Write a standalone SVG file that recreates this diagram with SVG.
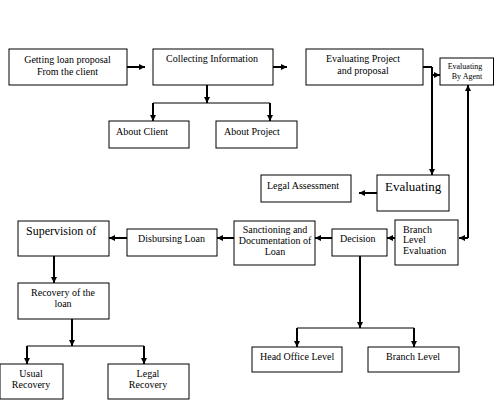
<svg xmlns="http://www.w3.org/2000/svg" width="494" height="415" viewBox="0 0 494 415">
<defs>
<marker id="ah" markerUnits="userSpaceOnUse" markerWidth="8" markerHeight="8" viewBox="0 0 8 8" refX="7" refY="4" orient="auto"><path d="M1,1 L7,4 L1,7 Z" fill="#000"/></marker>
</defs>
<style>
rect{fill:#fff;stroke:#000;stroke-width:1}
text{font-family:"Liberation Serif","Times New Roman",serif;font-size:10px;fill:#000}
.c{text-anchor:middle}
.big{font-size:13px}
.big2{font-size:12px}
.sm{font-size:8px}
.a{stroke:#000;stroke-width:2;fill:none;marker-end:url(#ah)}
.l{stroke:#000;stroke-width:2;fill:none}
.t{stroke:#000;stroke-width:1;fill:none}
</style>
<rect x="0" y="0" width="494" height="415" style="stroke:none"/>
<g id="connectors">
<path class="a" d="M127,67 H145"/>
<path class="a" d="M273,67 H287"/>
<path class="a" d="M207,85 V103"/>
<path class="t" d="M153,103 H270"/>
<path class="a" d="M153,103 V121"/>
<path class="a" d="M270,103 V121"/>
<path class="l" d="M423,67 H432"/>
<path class="a" d="M432,67 V175"/>
<path class="a" d="M432,75 H440"/>
<path class="a" d="M468,238 V85"/>
<path class="a" d="M468,238 H459"/>
<path class="a" d="M377,193 H359"/>
<path class="a" d="M395,238 H387"/>
<path class="a" d="M332,238 H315"/>
<path class="a" d="M234,238 H217"/>
<path class="a" d="M127,238 H109"/>
<path class="a" d="M54,256 V283"/>
<path class="a" d="M360,256 V328"/>
<path class="t" d="M297,328 H414"/>
<path class="a" d="M297,328 V347"/>
<path class="a" d="M414,328 V347"/>
<path class="a" d="M72,319 V346"/>
<path class="t" d="M27,346 H144"/>
<path class="a" d="M27,346 V364"/>
<path class="a" d="M144,346 V364"/>
</g>
<g id="getting"><rect x="9" y="49" width="118" height="36"/><text class="c" x="67.5" y="62.5">Getting loan proposal</text><text class="c" x="67.5" y="74.5">From the client</text></g>
<g id="collecting"><rect x="153" y="49" width="120" height="36"/><text x="166" y="62">Collecting Information</text></g>
<g id="evalproject"><rect x="306" y="49" width="117" height="36"/><text class="c" x="363" y="61.5">Evaluating Project</text><text class="c" x="363" y="73.5">and proposal</text></g>
<g id="agent"><rect x="440" y="58" width="53.5" height="27"/><text class="c sm" x="465" y="68.5">Evaluating</text><text class="c sm" x="467" y="78.5">By Agent</text></g>
<g id="aboutclient"><rect x="109" y="121" width="80" height="27"/><text x="116" y="134.5">About Client</text></g>
<g id="aboutproject"><rect x="216" y="121" width="81" height="27"/><text x="224" y="134.5">About Project</text></g>
<g id="legalassess"><rect x="261" y="175" width="90" height="27"/><text x="267" y="188.5">Legal Assessment</text></g>
<g id="evaluating"><rect x="377" y="175" width="72" height="36"/><text class="big" x="385" y="190.5">Evaluating</text></g>
<g id="branchlevelevaluation"><rect x="395" y="220" width="63" height="45"/><text x="403" y="232.5">Branch</text><text x="403" y="242.5">Level</text><text x="403" y="253.5">Evaluation</text></g>
<g id="decision"><rect x="332" y="229" width="55" height="27"/><text x="340" y="241.5">Decision</text></g>
<g id="sanctioning"><rect x="234" y="221" width="81" height="44"/><text class="c" x="275" y="232.5">Sanctioning and</text><text class="c" x="275" y="243.5">Documentation of</text><text class="c" x="275" y="254.5">Loan</text></g>
<g id="disbursing"><rect x="127" y="229" width="90" height="27"/><text x="138" y="241.5">Disbursing Loan</text></g>
<g id="supervision"><rect x="18" y="221" width="91" height="35"/><text class="big2" x="26" y="235">Supervision of</text></g>
<g id="recovery"><rect x="18" y="283" width="91" height="36"/><text class="c" x="63" y="295.5">Recovery of the</text><text class="c" x="63" y="306.5">loan</text></g>
<g id="usual"><rect x="0" y="364" width="63" height="35"/><text class="c" x="31" y="376.5">Usual</text><text class="c" x="31" y="387.5">Recovery</text></g>
<g id="legalrecovery"><rect x="108" y="364" width="81" height="35"/><text class="c" x="148" y="376.5">Legal</text><text class="c" x="148" y="387.5">Recovery</text></g>
<g id="headoffice"><rect x="252" y="347" width="90" height="25"/><text x="260" y="359.5">Head Office Level</text></g>
<g id="branchlevel"><rect x="368" y="347" width="91" height="25"/><text x="386" y="359.5">Branch Level</text></g>
</svg>
